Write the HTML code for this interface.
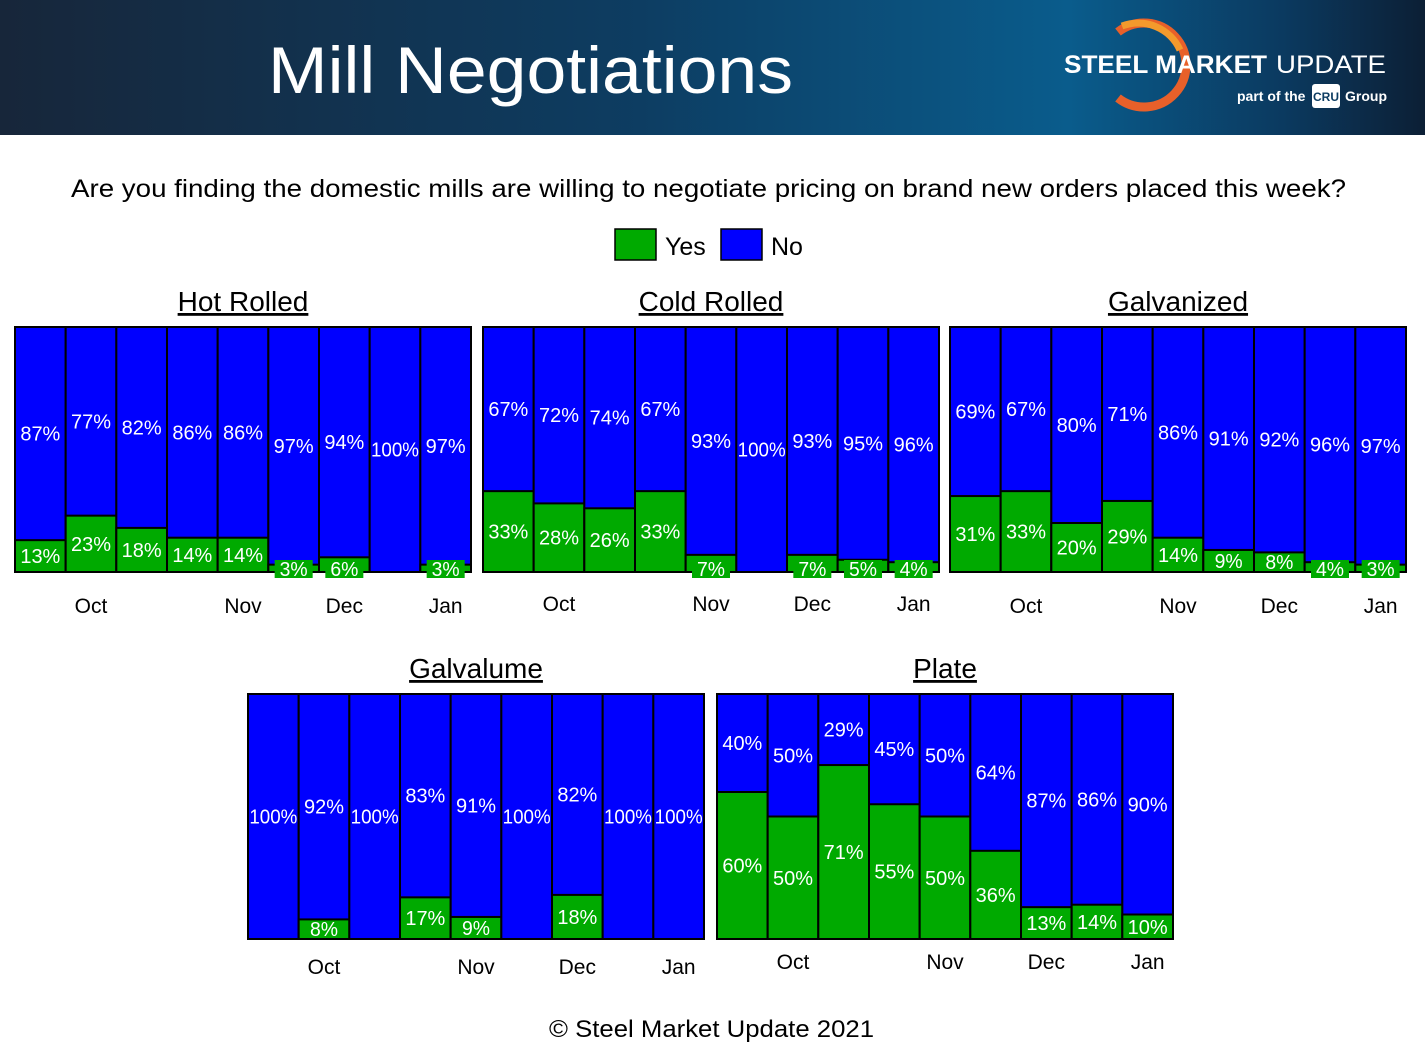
<!DOCTYPE html>
<html><head><meta charset="utf-8"><style>
body{margin:0;width:1425px;height:1048px;background:#fff;overflow:hidden;font-family:"Liberation Sans",sans-serif}
.hdr{position:absolute;left:0;top:0;width:1425px;height:135px;background:linear-gradient(90deg,#17263a 0%,#0d3d62 45%,#0a5c8c 75%,#0b3a60 90%,#0c1f35 100%)}
</style></head><body>
<div class="hdr"></div>
<svg width="1425" height="1048" style="position:absolute;left:0;top:0" id="s">
<text x="268" y="93" font-size="66" fill="#fff" textLength="525" lengthAdjust="spacingAndGlyphs" font-family="Liberation Sans">Mill Negotiations</text>
<path d="M1118,32 A42,42 0 1 1 1118,98" fill="none" stroke="#e8602a" stroke-width="9"/>
<path d="M1122,26 A46,46 0 0 1 1180,50" fill="none" stroke="#f39a2c" stroke-width="7"/>
<text x="1064" y="73" font-size="25" fill="#fff" font-weight="bold" textLength="203" lengthAdjust="spacingAndGlyphs">STEEL MARKET</text>
<text x="1276" y="73" font-size="25" fill="#fff" textLength="110" lengthAdjust="spacingAndGlyphs">UPDATE</text>
<text x="1237" y="101" font-size="14" fill="#fff" font-weight="bold">part of the</text>
<rect x="1312" y="84" width="28" height="24" rx="3" fill="#fff"/>
<text x="1326" y="101" font-size="12" fill="#0d3d62" font-weight="bold" text-anchor="middle">CRU</text>
<text x="1345" y="101" font-size="14" fill="#fff" font-weight="bold">Group</text>
<text x="71" y="197" font-size="25" fill="#000" textLength="1275" lengthAdjust="spacingAndGlyphs">Are you finding the domestic mills are willing to negotiate pricing on brand new orders placed this week?</text>
<rect x="615" y="229" width="41" height="31" fill="#00aa00" stroke="#000" stroke-width="1.5"/>
<text x="665" y="255" font-size="25">Yes</text>
<rect x="721" y="229" width="41" height="31" fill="#0000ff" stroke="#000" stroke-width="1.5"/>
<text x="771" y="255" font-size="25">No</text>
<text x="549" y="1037" font-size="24" textLength="325" lengthAdjust="spacingAndGlyphs">© Steel Market Update 2021</text>
</svg>
<script>
const s=document.getElementById('s');const NS='http://www.w3.org/2000/svg';
function el(t,a,txt){const e=document.createElementNS(NS,t);for(const k in a)e.setAttribute(k,a[k]);if(txt!==undefined)e.textContent=txt;s.appendChild(e);return e;}
function lab(x,y,v){const t=v+'%';const a={x:x,y:y,'font-size':20,fill:'#fff','text-anchor':'middle'};
 a.textLength=t.length==4?48:(t.length==3?40:28);a.lengthAdjust='spacingAndGlyphs';el('text',a,t);}
const charts=[
['Hot Rolled',15,327,605,[13,23,18,14,14,3,6,0,3]],
['Cold Rolled',483,327,603,[33,28,26,33,7,0,7,5,4]],
['Galvanized',950,327,605,[31,33,20,29,14,9,8,4,3]],
['Galvalume',248,694,966,[0,8,0,17,9,0,18,0,0]],
['Plate',717,694,961,[60,50,71,55,50,36,13,14,10]]];
charts.forEach(([name,x0,y0,ly,d])=>{
 const W=456,H=245,bw=W/9,yb=y0+H;
 el('text',{x:x0+W/2,y:y0-16,'font-size':28,'text-anchor':'middle','text-decoration':'underline'},name);
 d.forEach((v,i)=>{
  const x=x0+i*bw,yh=H*v/100,ys=yb-yh;
  el('rect',{x:x,y:y0,width:bw,height:H,fill:'#0000ff',stroke:'#000','stroke-width':2});
  if(v>0)el('rect',{x:x,y:ys,width:bw,height:yh,fill:'#00aa00',stroke:'#000','stroke-width':2});
  lab(x+bw/2,(y0+ys)/2+7,100-v);
  if(v>0){
   if(v<=7){el('rect',{x:x+bw/2-19,y:yb-12,width:38,height:18,fill:'#00aa00'});
    lab(x+bw/2,yb+4,v);}
   else lab(x+bw/2,ys+yh/2+7,v);
  }
 });
 [['Oct',1],['Nov',4],['Dec',6],['Jan',8]].forEach(([m,i])=>el('text',{x:x0+(i+.5)*bw,y:ly+8,'font-size':21,'text-anchor':'middle'},m));
});
</script>
</body></html>
